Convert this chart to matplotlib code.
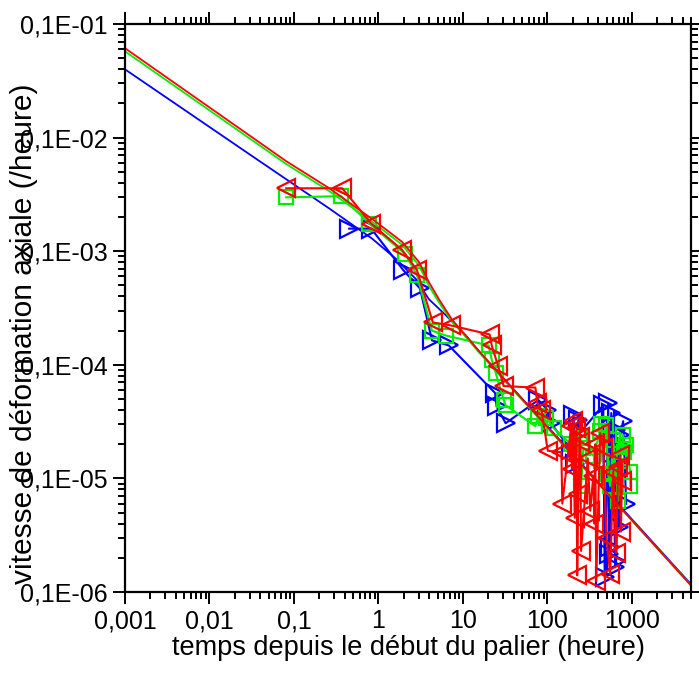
import matplotlib
matplotlib.use("Agg")
import matplotlib.pyplot as plt
from matplotlib.ticker import FixedLocator, LogLocator, NullFormatter, FixedFormatter

plt.rcParams['font.family'] = ['Liberation Sans', 'DejaVu Sans']

# measured points (time in h, axial strain rate in 1/h)
red_t = [0.081, 0.372, 0.82, 1.9, 2.85, 4.4, 7.2, 20.7, 21.9, 26, 30.3, 72, 76, 85, 101,
         146, 150, 191, 195, 203, 210, 220, 225, 232, 240, 245, 250, 300, 321, 349, 360, 368,
         378, 420, 457, 500, 553, 600, 650, 687, 726, 740, 760]
red_r = [3.58e-4, 3.58e-4, 1.75e-4, 1.03e-4, 6.84e-5, 2.36e-5, 2.22e-5, 1.85e-5, 1.48e-5,
         9.8e-6, 6.5e-6, 6.3e-6, 4.6e-6, 4.0e-6, 1.75e-6, 1.7e-6, 6.0e-7, 2.9e-6, 1.2e-6,
         3.2e-6, 4.5e-7, 2.8e-6, 1.4e-7, 7.3e-7, 2.3e-6, 2.1e-6, 2.3e-7, 1.5e-6, 5.2e-7,
         1.06e-6, 4.0e-7, 2.0e-6, 1.24e-7, 2.5e-6, 1.84e-6, 3.0e-7, 1.43e-7, 1.15e-6,
         2.2e-7, 1.27e-6, 1.6e-6, 3.4e-7, 9.4e-7]

green_t = [0.081, 0.362, 0.78, 2.06, 2.85, 4.29, 6.27, 20.1, 21.9, 24.4, 30.3, 32, 72, 78,
           97, 118, 190, 245, 250, 266, 349, 422, 430, 435, 496, 520, 553, 600, 687, 726,
           787, 800, 855, 953, 960]
green_r = [2.98e-4, 3.05e-4, 1.75e-4, 9.5e-5, 6.2e-5, 2.0e-5, 1.81e-5, 1.48e-5, 1.11e-5,
           8.5e-6, 4.9e-6, 4.4e-6, 2.88e-6, 3.53e-6, 3.43e-6, 2.77e-6, 2.0e-6, 2.25e-6,
           8.6e-7, 1.84e-6, 1.59e-6, 2.6e-6, 1.41e-6, 3.0e-6, 2.94e-6, 1.1e-6, 8.6e-7,
           2.2e-6, 6.35e-7, 1.41e-6, 2.4e-6, 1.7e-6, 1.95e-6, 1.15e-6, 8.6e-7]

blue_t = [0.45, 0.82, 1.97, 3.1, 4.3, 6.8, 24, 25, 32, 78, 100, 110, 192, 203, 212, 232,
          240, 457, 476, 524, 530, 553, 569, 600, 634, 640, 651, 687, 700, 726, 787, 855]
blue_r = [1.58e-4, 1.58e-4, 6.8e-5, 4.7e-5, 1.64e-5, 1.48e-5, 5.65e-6, 4.3e-6, 3.06e-6,
          4.9e-6, 4.0e-6, 3.06e-6, 1.77e-6, 3.6e-6, 1.35e-6, 3.26e-6, 2.5e-6, 4.4e-6,
          1.35e-7, 4.6e-6, 2.15e-7, 2.48e-7, 3.76e-6, 1.66e-6, 1.65e-7, 2.65e-6, 1.87e-7,
          2.04e-6, 3.74e-7, 2.4e-6, 3.19e-6, 5.97e-7]

# model curves
red_mt = [0.001, 0.0807, 0.262, 0.929, 1.90, 3.01, 3.95, 5.19, 7.38, 10.8, 15.3, 177, 5000]
red_mr = [6.12e-3, 6.21e-4, 3.58e-4, 1.82e-4, 1.21e-4, 8.05e-5, 5.35e-5, 3.78e-5, 2.51e-5,
          1.81e-5, 1.33e-5, 1.77e-6, 1.14e-7]
green_mt = red_mt
green_mr = [5.75e-3, 5.86e-4, 3.38e-4, 1.72e-4, 1.14e-4, 7.5e-5, 4.95e-5, 3.55e-5, 2.4e-5,
            1.76e-5, 1.30e-5, 1.74e-6, 1.15e-7]
blue_mt = [0.001, 0.0391, 0.261, 0.841, 1.61, 2.77, 3.95, 6.27, 10.8, 16.7, 177, 5000]
blue_mr = [3.99e-3, 6.21e-4, 2.38e-4, 1.29e-4, 8.57e-5, 5.69e-5, 3.78e-5, 2.73e-5, 1.81e-5,
           1.23e-5, 1.80e-6, 1.17e-7]

x_ticks = [0.001, 0.01, 0.1, 1, 10, 100, 1000]
x_labels = ['0,001', '0,01', '0,1', '1', '10', '100', '1000']
y_ticks = [1e-7, 1e-6, 1e-5, 1e-4, 1e-3, 1e-2]
y_labels = ['0,1E-06', '0,1E-05', '0,1E-04', '0,1E-03', '0,1E-02', '0,1E-01']

fig = plt.figure(figsize=(6.99, 6.73), dpi=100)
ax = fig.add_axes([125/699, 1-592/673, (691-125)/699, (592-24)/673])

series = [
    (blue_t, blue_r, blue_mt, blue_mr, '#0000ff', '>'),
    (green_t, green_r, green_mt, green_mr, '#00ee00', 's'),
    (red_t, red_r, red_mt, red_mr, '#ff0000', '<'),
]
for t, r, mt, mr, c, m in series:
    ax.plot(mt, mr, color=c, lw=1.3)
    ax.plot(t, r, color=c, lw=1.5, marker=m, ms=12.5 if m != 's' else 10,
            mfc='none', mec=c, mew=1.6)

ax.set_xscale('log')
ax.set_yscale('log')
ax.set_xlim(0.001, 5000)
ax.set_ylim(1e-7, 1e-2)

ax.xaxis.set_major_locator(FixedLocator(x_ticks))
ax.xaxis.set_major_formatter(FixedFormatter(x_labels))
ax.yaxis.set_major_locator(FixedLocator(y_ticks))
ax.yaxis.set_major_formatter(FixedFormatter(y_labels))
ax.xaxis.set_minor_locator(LogLocator(base=10, subs=range(2, 10), numticks=20))
ax.yaxis.set_minor_locator(LogLocator(base=10, subs=range(2, 10), numticks=20))
ax.xaxis.set_minor_formatter(NullFormatter())
ax.yaxis.set_minor_formatter(NullFormatter())

ax.tick_params(which='both', direction='out', top=True, right=True, width=1.4,
               labelsize=18)
ax.tick_params(which='major', length=8.5, pad=4)
ax.tick_params(which='minor', length=5)
for s in ax.spines.values():
    s.set_linewidth(1.6)

ax.set_xlabel('temps depuis le début du palier (heure)', fontsize=19.5, labelpad=1)
ax.set_ylabel('vitesse de déformation axiale (/heure)', fontsize=21.5)
ax.yaxis.set_label_coords(-0.153, 0.455)

fig.savefig('out.png', dpi=100)
